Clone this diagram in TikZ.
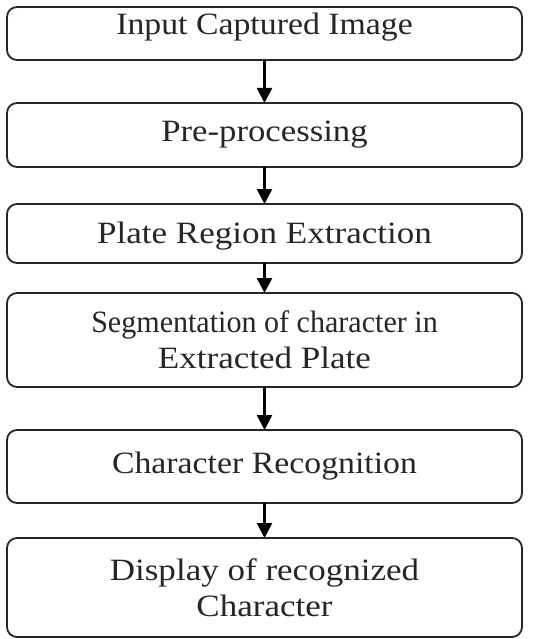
\documentclass[tikz,border=0pt]{standalone}
\usepackage{fontspec}
\usepackage{graphicx}
\setmainfont{Liberation Serif}
\usetikzlibrary{arrows.meta}
% horizontally widened line of text
\newcommand\wideline[2]{\scalebox{#1}[1]{#2}}
\tikzset{
  stage/.style={draw=black!85, line width=1.8pt, rounded corners=10pt,
    minimum width=515pt, inner sep=0pt, outer sep=0pt, align=center,
    font=\fontsize{31}{36}\selectfont, text=black!85},
  flow/.style={line width=2.5pt, -{Triangle[length=15pt,width=15pt]}, black}
}
\begin{document}
\begin{tikzpicture}[x=1pt,y=-1pt]
  \useasboundingbox (0,0) rectangle (542,639);
  \fill[white] (0,0) rectangle (542,639);
  \node[stage, minimum height=53pt, text depth=20pt] (s1) at (264.5,33.5)
    {\wideline{1.09}{Input Captured Image}};
  \node[stage, minimum height=64pt] (s2) at (264.5,135)
    {\wideline{1.12}{Pre-processing}};
  \node[stage, minimum height=59pt, text height=27pt] (s3) at (264.5,233.5)
    {\wideline{1.13}{Plate Region Extraction}};
  \node[stage, minimum height=94pt] (s4) at (264.5,340)
    {\wideline{0.97}{Segmentation of character in}\\\wideline{1.13}{Extracted Plate}};
  \node[stage, minimum height=73pt] (s5) at (264.5,466.5)
    {\wideline{1.09}{Character Recognition}};
  \node[stage, minimum height=99pt] (s6) at (264.5,587.5)
    {\wideline{1.13}{Display of recognized}\\\wideline{1.13}{Character}};
  \draw[flow] (s1) -- (s2);
  \draw[flow] (s2) -- (s3);
  \draw[flow] (s3) -- (s4);
  \draw[flow] (s4) -- (s5);
  \draw[flow] (s5) -- (s6);
\end{tikzpicture}
\end{document}
